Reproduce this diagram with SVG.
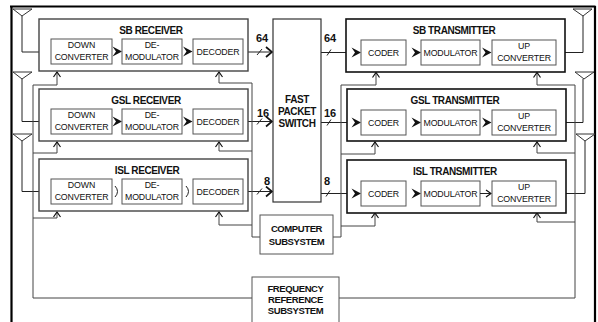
<svg xmlns="http://www.w3.org/2000/svg" width="598" height="322" viewBox="0 0 598 322">
<style>
.bg{fill:#fff}
.rx{fill:#fff;stroke:#444;stroke-width:1.4}
.tx{fill:#fff;stroke:#111;stroke-width:1.6}
.in{fill:#fff;stroke:#555;stroke-width:1}
.sw{fill:#fff;stroke:#333;stroke-width:1.2}
.ln{fill:none;stroke:#222;stroke-width:1}
.gl{fill:none;stroke:#444;stroke-width:1}
.ant{fill:none;stroke:#333;stroke-width:1}
.frame{fill:none;stroke:#000;stroke-width:2.2}
.t{font-family:"Liberation Sans",Arial,sans-serif;font-weight:bold;font-size:10px;letter-spacing:-0.4px;fill:#111;text-anchor:middle}
.s{font-family:"Liberation Sans",Arial,sans-serif;font-size:8.8px;fill:#111;text-anchor:middle;letter-spacing:-0.15px}
.n{font-family:"Liberation Sans",Arial,sans-serif;font-weight:bold;font-size:11px;fill:#111;text-anchor:middle}
.ch{fill:#111}
.thin{fill:none;stroke:#222;stroke-width:1}
</style>
<defs>
<path id="chev" d="M-0.5,-5 L9,0 L-0.5,5 L3,0 Z"/>
<marker id="arr" viewBox="-7 -5 8 10" refX="0" refY="0" markerWidth="8" markerHeight="10" markerUnits="userSpaceOnUse" orient="auto">
<path d="M-5,-3.5 L0,0 L-5,3.5" fill="none" stroke="#111" stroke-width="1.2"/>
</marker>
<marker id="big" viewBox="-8 -6 9 12" refX="0" refY="0" markerWidth="9" markerHeight="12" markerUnits="userSpaceOnUse" orient="auto">
<path d="M-6,-5 L0,0 L-6,5" fill="none" stroke="#111" stroke-width="1.7"/>
</marker>
</defs>
<rect class="bg" x="0" y="0" width="598" height="322"/>
<path class="frame" d="M10,6.5 H595.5 M11.5,6 V322 M595,6 V322"/>

<g id="connectors">
<path class="ant" d="M13,9 L32,9 L22,16 Z"/>
<path class="ln" d="M22,16 V52 H50.5" marker-end="url(#arr)"/>
<path class="ant" d="M13,72 L32,72 L22,79 Z"/>
<path class="ln" d="M22,79 V121.5 H50.5" marker-end="url(#arr)"/>
<path class="ant" d="M13,134 L32,134 L22,141 Z"/>
<path class="ln" d="M22,141 V191.5 H50.5" marker-end="url(#arr)"/>
<path class="ant" d="M573,9 L592,9 L583,16 Z"/>
<path class="ln" d="M556,52.5 H583 V16"/>
<path class="ant" d="M575,72 L594,72 L584,79 Z"/>
<path class="ln" d="M556,122.5 H583 V79"/>
<path class="ant" d="M576,134 L595,134 L585,141 Z"/>
<path class="ln" d="M556,193.5 H585 V141"/>

<path class="ln" d="M243,52 H272" marker-end="url(#big)"/>
<path class="ln" d="M257,55 L262,49"/>
<path class="ln" d="M243,121.5 H272" marker-end="url(#big)"/>
<path class="ln" d="M257,124.5 L262,118.5"/>
<path class="ln" d="M243,191.5 H272" marker-end="url(#big)"/>
<path class="ln" d="M257,194.5 L262,188.5"/>
<path class="ln" d="M321,52.5 H353"/>
<path class="ln" d="M327,55.5 L331,49.5"/>
<path class="ln" d="M321,122.5 H353"/>
<path class="ln" d="M327,125.5 L331,119.5"/>
<path class="ln" d="M321,193.5 H353"/>
<path class="ln" d="M326,196.5 L330,190.5"/>

<path class="gl" d="M252,298 H33 V85 H57 V72" marker-end="url(#arr)"/>
<path class="gl" d="M33,153 H57 V142" marker-end="url(#arr)"/>
<path class="gl" d="M33,218 H57 V212" marker-end="url(#arr)"/>
<path class="gl" d="M260,237 H252 V83 H219 V72" marker-end="url(#arr)"/>
<path class="gl" d="M252,151 H219 V142" marker-end="url(#arr)"/>
<path class="gl" d="M252,225 H219 V212" marker-end="url(#arr)"/>
<path class="gl" d="M333,237 H341 V85 H376 V72.5" marker-end="url(#arr)"/>
<path class="gl" d="M341,154 H375 V142" marker-end="url(#arr)"/>
<path class="gl" d="M341,226 H375 V213" marker-end="url(#arr)"/>
<path class="gl" d="M339,298 H575 V85 H537 V72.5" marker-end="url(#arr)"/>
<path class="gl" d="M575,153 H537 V142" marker-end="url(#arr)"/>
<path class="gl" d="M575,222 H537 V213" marker-end="url(#arr)"/>
</g>

<g id="sb-receiver">
<rect class="rx" x="39" y="19" width="209" height="52"/>
<text class="t" x="151" y="34">SB RECEIVER</text>
<rect class="in" x="51" y="39" width="61" height="25"/>
<text class="s" x="81.5" y="48">DOWN</text><text class="s" x="81.5" y="60">CONVERTER</text>
<use href="#chev" x="113" y="51.5" class="ch"/>
<rect class="in" x="122" y="39" width="60" height="25"/>
<text class="s" x="152" y="48">DE-</text><text class="s" x="152" y="60">MODULATOR</text>
<use href="#chev" x="183.5" y="51.5" class="ch"/>
<rect class="in" x="193" y="39" width="50" height="25"/>
<text class="s" x="218" y="55">DECODER</text>
</g>

<g id="gsl-receiver">
<rect class="rx" x="39" y="89" width="209" height="52"/>
<text class="t" x="146" y="104">GSL RECEIVER</text>
<rect class="in" x="51" y="109" width="61" height="25"/>
<text class="s" x="81.5" y="118">DOWN</text><text class="s" x="81.5" y="130">CONVERTER</text>
<use href="#chev" x="113" y="121.5" class="ch"/>
<rect class="in" x="122" y="109" width="60" height="25"/>
<text class="s" x="152" y="118">DE-</text><text class="s" x="152" y="130">MODULATOR</text>
<use href="#chev" x="183.5" y="121.5" class="ch"/>
<rect class="in" x="193" y="109" width="50" height="25"/>
<text class="s" x="218" y="125">DECODER</text>
</g>

<g id="isl-receiver">
<rect class="rx" x="39" y="159" width="209" height="52"/>
<text class="t" x="147" y="174">ISL RECEIVER</text>
<rect class="in" x="51" y="179" width="61" height="25"/>
<text class="s" x="81.5" y="188">DOWN</text><text class="s" x="81.5" y="200">CONVERTER</text>
<path class="thin" d="M115,186 Q120,191.5 115,197"/>
<rect class="in" x="122" y="179" width="60" height="25"/>
<text class="s" x="152" y="188">DE-</text><text class="s" x="152" y="200">MODULATOR</text>
<path class="thin" d="M186,186 Q191,191.5 186,197"/>
<rect class="in" x="193" y="179" width="50" height="25"/>
<text class="s" x="218" y="195">DECODER</text>
</g>

<g id="switch">
<rect class="sw" x="273" y="19" width="48" height="183"/>
<text class="t" x="297" y="103">FAST</text>
<text class="t" x="297" y="115">PACKET</text>
<text class="t" x="297" y="127">SWITCH</text>
</g>

<g id="labels">
<text class="n" x="262" y="42">64</text>
<text class="n" x="330" y="42">64</text>
<text class="n" x="263" y="117">16</text>
<text class="n" x="330" y="117">16</text>
<text class="n" x="267" y="185">8</text>
<text class="n" x="327" y="185">8</text>
</g>

<g id="sb-transmitter">
<rect class="tx" x="346" y="19" width="219" height="53"/>
<text class="t" x="454" y="34">SB TRANSMITTER</text>
<use href="#chev" x="352" y="52.5" class="ch"/>
<rect class="in" x="361" y="40" width="45" height="25"/>
<text class="s" x="383.5" y="56">CODER</text>
<use href="#chev" x="412" y="52.5" class="ch"/>
<rect class="in" x="421" y="40" width="59" height="25"/>
<text class="s" x="450.5" y="56">MODULATOR</text>
<use href="#chev" x="482.5" y="52.5" class="ch"/>
<rect class="in" x="492" y="40" width="64" height="25"/>
<text class="s" x="524" y="49">UP</text><text class="s" x="524" y="61">CONVERTER</text>
</g>

<g id="gsl-transmitter">
<rect class="tx" x="347" y="89" width="219" height="52"/>
<text class="t" x="455" y="104">GSL TRANSMITTER</text>
<use href="#chev" x="352" y="122.5" class="ch"/>
<rect class="in" x="361" y="110" width="45" height="25"/>
<text class="s" x="383.5" y="126">CODER</text>
<use href="#chev" x="412" y="122.5" class="ch"/>
<rect class="in" x="421" y="110" width="59" height="25"/>
<text class="s" x="450.5" y="126">MODULATOR</text>
<use href="#chev" x="482.5" y="122.5" class="ch"/>
<rect class="in" x="492" y="110" width="64" height="25"/>
<text class="s" x="524" y="119">UP</text><text class="s" x="524" y="131">CONVERTER</text>
</g>

<g id="isl-transmitter">
<rect class="tx" x="347" y="160" width="219" height="53"/>
<text class="t" x="455" y="175">ISL TRANSMITTER</text>
<use href="#chev" x="352" y="193.5" class="ch"/>
<rect class="in" x="361" y="181" width="45" height="25"/>
<text class="s" x="383.5" y="197">CODER</text>
<use href="#chev" x="412" y="193.5" class="ch"/>
<rect class="in" x="421" y="181" width="59" height="25"/>
<text class="s" x="450.5" y="197">MODULATOR</text>
<path class="ln" d="M480,193.5 H491" marker-end="url(#arr)"/>
<rect class="in" x="492" y="181" width="64" height="25"/>
<text class="s" x="524" y="190">UP</text><text class="s" x="524" y="202">CONVERTER</text>
</g>

<g id="computer-subsystem">
<rect class="in" x="260" y="215" width="73" height="39"/>
<text class="t" x="296.5" y="232" style="font-size:9.5px">COMPUTER</text>
<text class="t" x="296.5" y="245" style="font-size:9.5px">SUBSYSTEM</text>
</g>

<g id="frequency-reference-subsystem">
<rect class="in" x="252" y="277" width="87" height="50"/>
<text class="t" x="295.5" y="292" style="font-size:9.5px">FREQUENCY</text>
<text class="t" x="295.5" y="303" style="font-size:9.5px">REFERENCE</text>
<text class="t" x="295.5" y="314" style="font-size:9.5px">SUBSYSTEM</text>
</g>
</svg>
